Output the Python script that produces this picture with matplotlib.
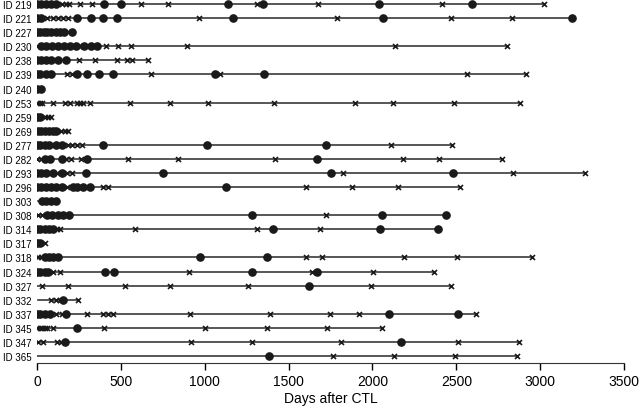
import matplotlib
matplotlib.use("Agg")
import matplotlib.pyplot as plt

plt.rcParams['font.family'] = ['Liberation Sans', 'DejaVu Sans']

# ----------------------------------------------------
# data (days after CTL)
# ----------------------------------------------------
ids = ['ID 219', 'ID 221', 'ID 227', 'ID 230', 'ID 238', 'ID 239', 'ID 240',
       'ID 253', 'ID 259', 'ID 269', 'ID 277', 'ID 282', 'ID 293', 'ID 296',
       'ID 303', 'ID 308', 'ID 314', 'ID 317', 'ID 318', 'ID 324', 'ID 327',
       'ID 332', 'ID 337', 'ID 345', 'ID 347', 'ID 365']

line_start = [0, 0, 0, 0, 0, 0, 0, 0, 0, 0, 0, 0, 0, 0,
              5, 0, 0, 0, 0, 0, 0, 5, 0, 0, 0, 0]

circle_days = [
    [0, 25, 55, 85, 115, 400, 500, 1140, 1345, 2040, 2595],          # 219
    [0, 25, 240, 320, 390, 475, 1170, 2063, 3190],                   # 221
    [0, 20, 40, 60, 85, 110, 135, 160, 210],                         # 227
    [25, 50, 90, 125, 160, 195, 230, 280, 320, 360],                 # 230
    [0, 25, 55, 85, 125, 170],                                       # 238
    [0, 20, 50, 80, 240, 298, 372, 455, 1060, 1355],                 # 239
    [0, 25],                                                         # 240
    [],                                                              # 253
    [0, 20],                                                         # 259
    [5, 25, 45, 70, 95, 115],                                        # 269
    [0, 20, 45, 70, 115, 150, 393, 1016, 1725],                      # 277
    [45, 75, 147, 300, 1668],                                        # 282
    [0, 25, 55, 97, 147, 290, 750, 1753, 2481],                      # 293
    [0, 25, 55, 85, 110, 147, 215, 240, 275, 316, 1127],             # 296
    [30, 55, 85, 115],                                               # 303
    [60, 90, 125, 155, 190, 1280, 2057, 2440],                       # 308
    [0, 20, 45, 70, 97, 1409, 2045, 2391],                           # 314
    [0, 15],                                                         # 317
    [45, 70, 95, 125, 972, 1370],                                    # 318
    [0, 20, 45, 65, 405, 460, 1280, 1668],                           # 324
    [1622],                                                          # 327
    [157],                                                           # 332
    [0, 20, 45, 78, 175, 2099, 2511],                                # 337
    [240],                                                           # 345
    [165, 2170],                                                     # 347
    [1385],                                                          # 365
]

cross_days = [
    [150, 170, 190, 255, 330, 620, 780, 1310, 1675, 2415, 3025],     # 219
    [60, 95, 125, 155, 185, 965, 1790, 2470, 2830],                  # 221
    [185],                                                           # 227
    [0, 250, 410, 485, 560, 895, 2135, 2805],                        # 230
    [250, 345, 477, 535, 565, 662],                                  # 238
    [180, 210, 680, 1090, 2565, 2915],                               # 239
    [],                                                              # 240
    [0, 15, 30, 97, 165, 195, 235, 255, 275, 316, 555, 793, 1022,
     1415, 1895, 2123, 2487, 2881],                                  # 253
    [45, 65, 85],                                                    # 259
    [145, 165, 185],                                                 # 269
    [90, 185, 210, 240, 270, 2111, 2475],                            # 277
    [0, 25, 170, 200, 260, 540, 842, 1420, 2182, 2397, 2773],        # 282
    [120, 180, 210, 1824, 2838, 3268],                               # 293
    [180, 290, 395, 425, 1604, 1878, 2153, 2522],                    # 296
    [],                                                              # 303
    [5, 30, 1723],                                                   # 308
    [120, 137, 584, 1310, 1688],                                     # 314
    [45],                                                            # 317
    [5, 25, 60, 1605, 1700, 2190, 2507, 2952],                       # 318
    [95, 137, 903, 1638, 2005, 2369],                                # 324
    [30, 187, 525, 790, 1257, 1992, 2469],                           # 327
    [85, 110, 135, 245],                                             # 332
    [115, 148, 296, 395, 420, 450, 912, 1390, 1745, 1922, 2616],     # 337
    [0, 15, 30, 45, 60, 97, 400, 1002, 1370, 1728, 2057],            # 345
    [5, 35, 120, 140, 918, 1284, 1811, 2511, 2874],                  # 347
    [1763, 2129, 2493, 2862],                                        # 365
]

x_ticks = [0, 500, 1000, 1500, 2000, 2500, 3000, 3500]

# ----------------------------------------------------
# plot
# ----------------------------------------------------
fig = plt.figure(figsize=(6.4, 4.1), dpi=100)
ax = fig.add_axes([0.058, 0.112, 0.917, 0.888])

for row, name in enumerate(ids):
    days = circle_days[row] + cross_days[row]
    end = max(days)
    # 추적 기간 선
    ax.plot([line_start[row], end], [row, row], color='#3a3a3a', lw=1.2, zorder=1)
    if cross_days[row]:
        ax.plot(cross_days[row], [row] * len(cross_days[row]), linestyle='none',
                marker='x', ms=3.6, mew=1.2, color='#1a1a1a', zorder=2)
    if circle_days[row]:
        ax.plot(circle_days[row], [row] * len(circle_days[row]), linestyle='none',
                marker='o', ms=5.2, color='#1a1a1a', mec='#1a1a1a', zorder=3)

ax.set_xlim(0, 3500)
ax.set_ylim(len(ids) - 1 + 0.5, -0.36)
ax.set_xticks(x_ticks)
ax.set_yticks(range(len(ids)))
ax.set_yticklabels(ids, fontsize=7)
ax.tick_params(axis='y', length=0, pad=4)
ax.tick_params(axis='x', direction='out', length=5, width=1, labelsize=10, pad=3)
ax.set_xlabel('Days after CTL', fontsize=10, labelpad=2)

for side in ['top', 'right', 'left']:
    ax.spines[side].set_visible(False)
ax.spines['bottom'].set_color('#333333')

fig.savefig('out.png', dpi=100)
